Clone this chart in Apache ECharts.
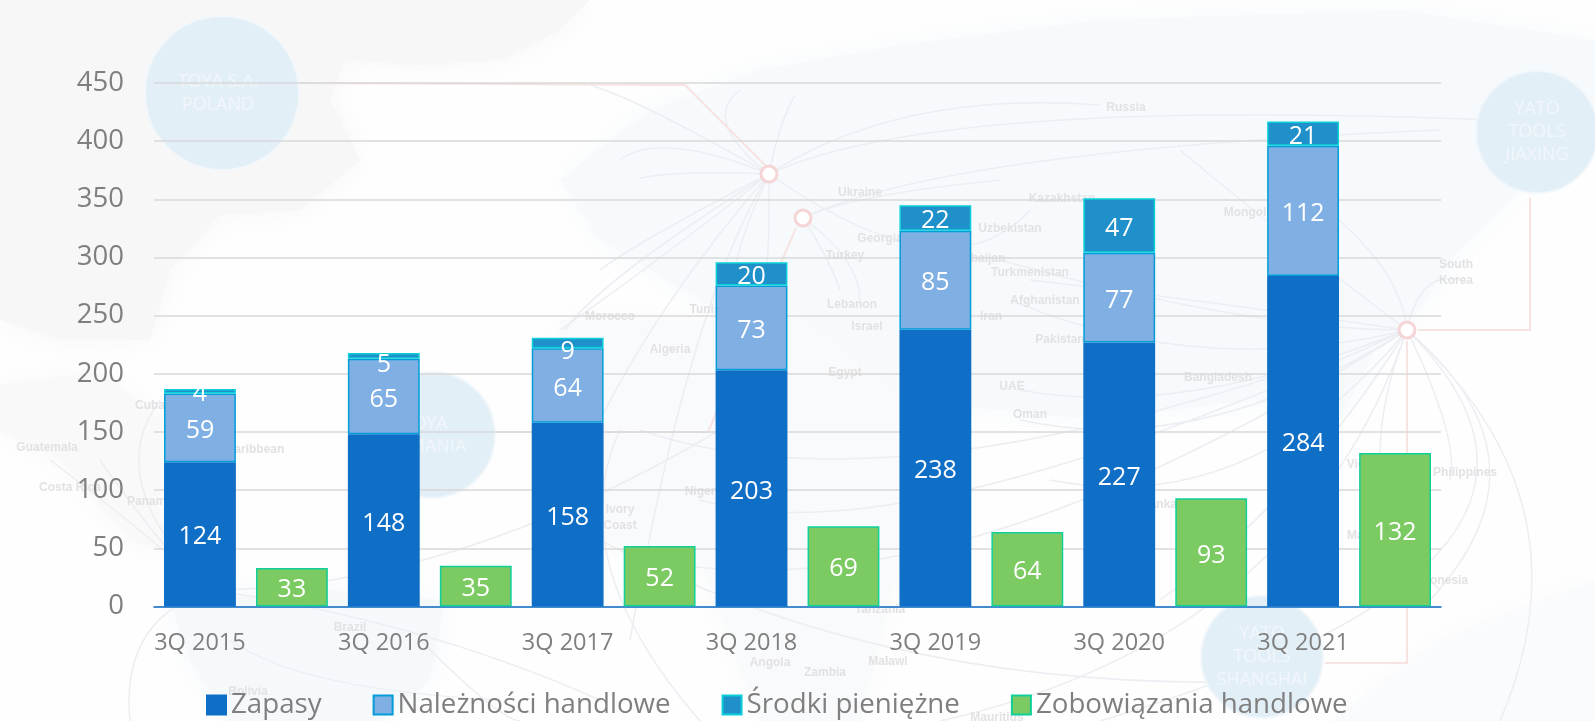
<!DOCTYPE html>
<html lang="pl">
<head>
<meta charset="utf-8">
<title>Kapitał obrotowy</title>
<style>html,body{margin:0;padding:0;background:#fff}#c{width:1595px;height:721px}</style>
<script src="https://cdn.jsdelivr.net/npm/echarts@6/dist/echarts.min.js"></script>
</head>
<body>
<div id="c"></div>
<script>
// Chart data
const categories = ['3Q 2015','3Q 2016','3Q 2017','3Q 2018','3Q 2019','3Q 2020','3Q 2021'];
const zapasy = [124,148,158,203,238,227,284];
const naleznosci = [59,65,64,73,85,77,112];
const srodki = [4,5,9,20,22,47,21];
const zobowiazania = [33,35,52,69,64,93,132];
const yTicks = {min:0, max:450, interval:50};

// Faint decorative world-map backdrop (not data)
const landShapes = [
  {c:'#f7f7f7',p:[[0,0],[590,0],[560,30],[500,60],[420,65],[345,60],[330,100],[360,160],[300,210],[220,215],[170,270],[150,340],[60,340],[0,320]]},
  {c:'#f9f9f9',p:[[0,385],[100,372],[160,420],[160,520],[200,560],[130,540],[60,460],[0,430]]},
  {c:'#f6f9fc',p:[[170,600],[330,590],[445,600],[430,680],[380,721],[230,721],[190,660]]},
  {c:'#f7fafc',p:[[560,180],[650,110],[760,70],[900,45],[1100,20],[1400,10],[1595,40],[1595,100],[1510,200],[1450,260],[1420,310],[1380,340],[1340,420],[1250,400],[1100,420],[900,400],[780,340],[700,300],[600,240]]},
  {c:'#f9fafb',p:[[560,320],[800,320],[870,380],[950,440],[900,560],[860,721],[760,721],[700,560],[600,540],[560,440]]},
  {c:'#fafbfd',p:[[1330,721],[1440,640],[1595,580],[1595,721]]}
];
const routeCurves = [
  [769,174,640,100,590,85],[769,174,700,120,740,90],[769,174,780,120,795,95],[769,174,660,130,620,160],
  [769,174,680,170,640,178],[769,174,640,240,600,270],[769,174,600,280,565,330],[769,174,660,300,600,420],
  [769,174,690,300,630,640],[769,174,720,280,740,300],[769,174,770,240,765,300],[769,174,900,90,1100,105],
  [769,174,950,90,1595,125],[769,174,950,300,1030,210],[803,218,860,260,860,300],[803,218,830,260,840,290],
  [803,218,850,195,1000,180],[803,218,950,150,1440,130],[560,330,660,260,769,174],
  [1407,330,1400,260,1300,190],[1407,330,1420,270,1460,280],[1407,330,1300,250,1180,150],[1407,330,1250,330,1000,260],
  [1407,330,1200,300,1030,280],[1407,330,1200,380,1010,300],[1407,330,1180,420,1020,390],[1407,330,1200,460,1020,420],
  [1407,330,1250,520,1050,480],[1407,330,1300,500,1160,600],[1407,330,1340,500,1440,590],[1407,330,1460,440,1450,480],
  [1407,330,1560,460,1430,600],[1407,330,1640,560,1100,721],[1407,330,1300,640,940,721],[1407,330,900,520,640,430],
  [1407,330,900,560,700,500],[1407,330,950,620,650,560],[1407,330,1595,500,1500,721],
  [210,590,170,560,100,460],[210,590,100,480,160,400],[130,721,120,620,210,590],[210,590,130,520,50,460],
  [210,590,420,620,600,700],[210,590,450,590,720,430],[420,640,500,720,520,721],[620,430,560,560,700,721],
  [230,640,300,690,500,700],[600,540,900,700,1300,680]
];
const mapLabels = [
  ['Russia',1126,108],['Ukraine',860,193],['Kazakhstan',1062,199],['Uzbekistan',1010,229],['Georgia',880,239],['Turkey',845,256],
  ['Turkmenistan',1030,273],['Azerbaijan',975,259],['Lebanon',852,305],['Afghanistan',1045,301],['Israel',867,327],['Iran',991,317],
  ['Morocco',610,317],['Tunisia',710,310],['Algeria',670,350],['Egypt',845,373],['UAE',1012,387],['Oman',1030,415],['Bangladesh',1218,378],
  ['South',1456,265],['Korea',1456,281],['Mongolia',1250,213],['Philippines',1465,473],['Indonesia',1440,581],['Malaysia',1372,536],
  ['Guatemala',47,448],['Costa Rica',70,488],['Cuba',150,406],['Caribbean',255,450],['Panama',150,502],['Brazil',350,628],['Bolivia',248,692],
  ['Ivory',620,510],['Coast',620,526],['Nigeria',705,492],['Tanzania',880,610],['Angola',770,663],['Zambia',825,673],['Malawi',888,662],
  ['Mauritius',997,718],['Pakistan',1060,340],['Sri Lanka',1150,505],['Vietnam',1370,465]
];
const hubs = [
  {name:'TOYA S.A.\nPOLAND',cx:222,cy:93,r:77,tx:218,ty:93,line:23},
  {name:'TOYA\nROMANIA',cx:432,cy:435,r:63,tx:425,ty:435,line:23},
  {name:'YATO\nTOOLS\nJIAXING',cx:1537,cy:132,r:61,tx:1537,ty:132,line:23},
  {name:'YATO\nTOOLS\nSHANGHAI',cx:1262,cy:657,r:61,tx:1262,ty:657,line:23}
];
const redLines = [
  [[299,83],[685,85],[765,165]],
  [[495,432],[708,432],[796,228]],
  [[1418,330],[1530,330],[1530,198]],
  [[1407,341],[1407,663],[1325,663]]
];
const redNodes = [[769,174],[803,218],[1407,330]];

const decor = [];
landShapes.forEach(s => decor.push({type:'polygon',z:-20,silent:true,shape:{points:s.p},style:{fill:s.c,shadowBlur:30,shadowColor:s.c}}));
routeCurves.forEach(c => decor.push({type:'bezierCurve',z:-18,silent:true,
  shape:{x1:c[0],y1:c[1],cpx1:c[2],cpy1:c[3],x2:c[4],y2:c[5]},style:{fill:'none',stroke:'#eceef3',lineWidth:1.5}}));
redLines.forEach(l => decor.push({type:'polyline',z:-17,silent:true,shape:{points:l},style:{fill:'none',stroke:'#f8e3e3',lineWidth:2}}));
redNodes.forEach(n => decor.push({type:'circle',z:-16,silent:true,shape:{cx:n[0],cy:n[1],r:8},style:{fill:'#fff',stroke:'#f5d5d5',lineWidth:3}}));
mapLabels.forEach(m => decor.push({type:'text',z:-15,silent:true,x:m[1],y:m[2],
  style:{text:m[0],fill:'#e2e2e4',font:'bold 12px "Liberation Sans"',align:'center',verticalAlign:'middle'}}));
hubs.forEach(h => {
  decor.push({type:'circle',z:-14,silent:true,shape:{cx:h.cx,cy:h.cy,r:h.r},style:{fill:'#e3eff7',stroke:'#f2f7fb',lineWidth:2}});
  decor.push({type:'text',z:-13,silent:true,x:h.tx,y:h.ty,
    style:{text:h.name,fill:'#f1f6fa',font:'18px "Open Sans"',lineHeight:h.line,align:'center',verticalAlign:'middle'}});
});

const labelStyle = {show:true,position:'inside',color:'#ffffff',fontFamily:'"Open Sans"',fontSize:25,offset:[0,3]};
const stackSeries = (name,data,fill,border) => ({
  name,type:'bar',stack:'aktywa',data,barGap:'28%',barCategoryGap:'10.9%',
  itemStyle:{color:fill,borderColor:border,borderWidth:1.5},label:labelStyle
});
// the labels of the two thin cash segments (5 and 9) sit lower than the segment itself
const srodkiItems = srodki.map(v => (v === 5 || v === 9) ? {value:v,label:{offset:[0,9]}} : v);

const chart = echarts.init(document.getElementById('c'),null,{renderer:'canvas'});
chart.setOption({
  animation:false,
  backgroundColor:'#fefefe',
  textStyle:{fontFamily:'"Open Sans"'},
  graphic:{elements:decor},
  grid:{left:154,right:154,top:83,bottom:114.5,containLabel:false},
  legend:{
    left:206,top:691,itemWidth:19,itemHeight:19,itemGap:51,icon:'rect',padding:0,
    textStyle:{color:'#7f7f7f',fontSize:27.7,fontFamily:'"Open Sans"'},
    data:['Zapasy','Należności handlowe','Środki pieniężne','Zobowiązania handlowe']
  },
  xAxis:{
    type:'category',data:categories,
    axisLine:{lineStyle:{color:'#0f6fc6',width:1.5}},
    axisTick:{show:false},
    axisLabel:{color:'#7f7f7f',fontSize:23.5,margin:25,padding:[0,92,0,0],interval:0}
  },
  yAxis:{
    type:'value',min:yTicks.min,max:yTicks.max,interval:yTicks.interval,
    axisLine:{show:false},axisTick:{show:false},
    axisLabel:{margin:30,formatter:'{a|{value}}',
      rich:{a:{color:'#7f7f7f',fontSize:27.5,fontFamily:'"Open Sans"',height:38,verticalAlign:'bottom',lineHeight:38}}},
    splitLine:{lineStyle:{color:'#d9d9d9',width:1.5}}
  },
  series:[
    stackSeries('Zapasy',zapasy,'#0f6fc6','#0f6fc6'),
    stackSeries('Należności handlowe',naleznosci,'#7fafe3','#009dd9'),
    stackSeries('Środki pieniężne',srodkiItems,'#2090cb','#0bd0d9'),
    {name:'Zobowiązania handlowe',type:'bar',data:zobowiazania,
     itemStyle:{color:'#7cca62',borderColor:'#10cf9b',borderWidth:1.5},label:labelStyle}
  ]
});
</script>
</body>
</html>
